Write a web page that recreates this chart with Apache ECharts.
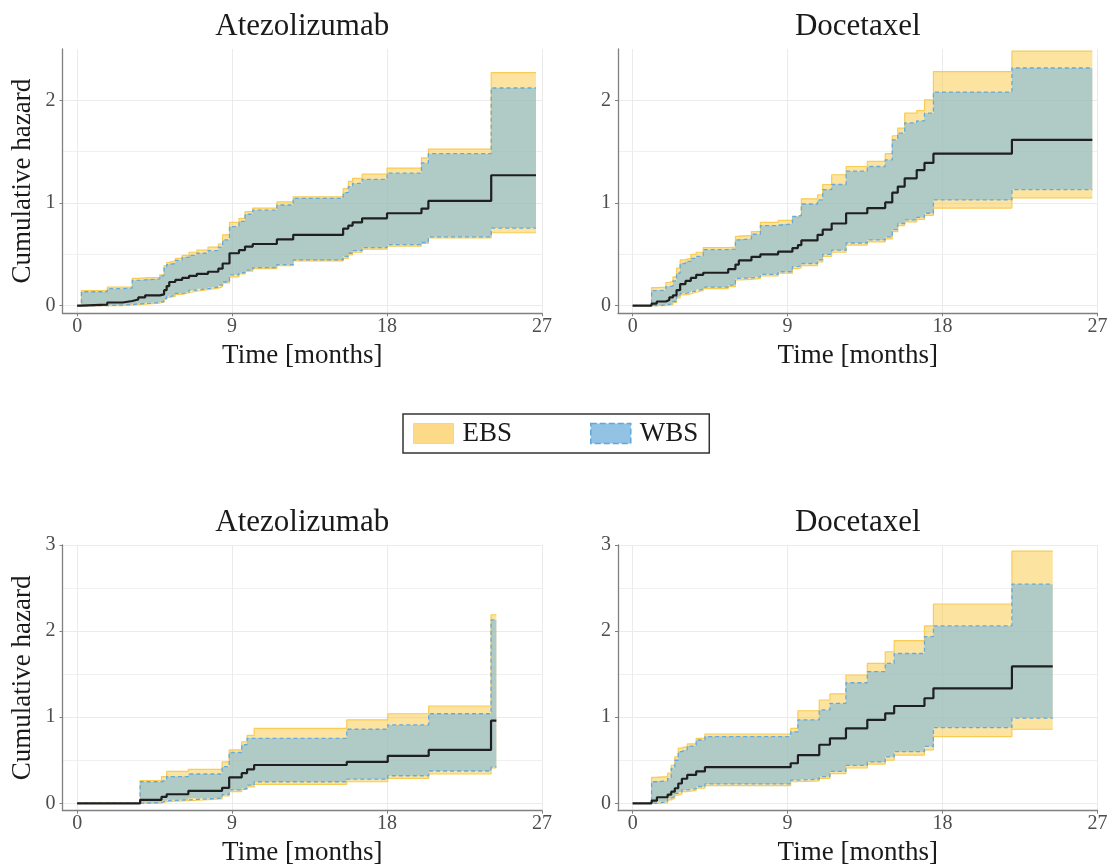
<!DOCTYPE html>
<html>
<head>
<meta charset="utf-8">
<title>Cumulative hazard – EBS vs WBS</title>
<script src="https://cdn.jsdelivr.net/npm/echarts@6/dist/echarts.min.js"></script>
<style>
  html, body { margin: 0; padding: 0; background: #ffffff; }
  #chart { width: 1110px; height: 868px; }
</style>
</head>
<body>
<div id="chart"></div>
<script>
// ---------- data: step functions (value holds from each time to the next) ----------

// Top row, Atezolizumab
const topAtezoTime  = [0, 0.25, 1.75, 2.65, 3.2, 3.55, 3.95, 4.8, 5.05, 5.2, 5.35, 5.7, 6.1, 6.5, 6.95, 7.6, 8.2, 8.45, 8.85, 9.4, 9.75, 10.2, 11.6, 12.55, 15.45, 15.75, 16.0, 16.55, 18.0, 20.0, 20.4, 24.05, 26.65];
const topAtezoEst   = [0, 0.01, 0.03, 0.045, 0.06, 0.08, 0.10, 0.11, 0.15, 0.19, 0.23, 0.25, 0.27, 0.29, 0.31, 0.33, 0.36, 0.41, 0.51, 0.54, 0.575, 0.60, 0.645, 0.69, 0.75, 0.78, 0.81, 0.85, 0.90, 0.945, 1.02, 1.27, 1.27];
const topAtezoWbsLo = [0, 0, 0.005, 0.01, 0.015, 0.02, 0.03, 0.04, 0.07, 0.09, 0.10, 0.12, 0.13, 0.15, 0.165, 0.18, 0.20, 0.23, 0.30, 0.32, 0.345, 0.37, 0.40, 0.445, 0.48, 0.51, 0.535, 0.565, 0.595, 0.615, 0.67, 0.755, 0.755];
const topAtezoWbsHi = [0, 0.135, 0.165, 0.17, 0.245, 0.25, 0.26, 0.29, 0.37, 0.40, 0.41, 0.44, 0.47, 0.49, 0.51, 0.535, 0.57, 0.64, 0.77, 0.82, 0.89, 0.93, 0.98, 1.045, 1.10, 1.16, 1.19, 1.23, 1.29, 1.39, 1.48, 2.12, 2.12];
const topAtezoEbsLo = [0, 0, 0, 0.005, 0.01, 0.015, 0.025, 0.035, 0.06, 0.08, 0.09, 0.11, 0.125, 0.14, 0.155, 0.17, 0.185, 0.22, 0.28, 0.31, 0.335, 0.36, 0.39, 0.435, 0.46, 0.495, 0.52, 0.55, 0.58, 0.605, 0.66, 0.71, 0.71];
const topAtezoEbsHi = [0, 0.145, 0.18, 0.18, 0.265, 0.27, 0.275, 0.30, 0.39, 0.42, 0.435, 0.46, 0.49, 0.52, 0.54, 0.57, 0.60, 0.69, 0.81, 0.85, 0.915, 0.95, 1.01, 1.06, 1.14, 1.21, 1.24, 1.28, 1.34, 1.44, 1.525, 2.27, 2.27];

// Top row, Docetaxel
const topDoceTime  = [0, 1.1, 1.4, 1.93, 2.13, 2.34, 2.55, 2.76, 3.07, 3.38, 3.69, 4.1, 5.55, 5.97, 6.17, 6.9, 7.42, 8.45, 9.28, 9.6, 9.8, 10.74, 11.04, 11.56, 12.4, 13.63, 14.67, 15.08, 15.4, 15.8, 16.5, 16.95, 17.47, 22.03, 26.7];
const topDoceEst   = [0, 0.02, 0.04, 0.055, 0.08, 0.10, 0.15, 0.21, 0.24, 0.27, 0.30, 0.32, 0.355, 0.40, 0.44, 0.475, 0.50, 0.525, 0.56, 0.59, 0.635, 0.69, 0.74, 0.80, 0.90, 0.95, 1.005, 1.10, 1.16, 1.24, 1.32, 1.39, 1.48, 1.615, 1.615];
const topDoceWbsLo = [0, 0, 0.005, 0.013, 0.02, 0.04, 0.09, 0.12, 0.13, 0.145, 0.16, 0.18, 0.20, 0.265, 0.27, 0.28, 0.305, 0.33, 0.38, 0.39, 0.41, 0.445, 0.50, 0.54, 0.61, 0.64, 0.67, 0.74, 0.80, 0.835, 0.86, 0.90, 1.03, 1.13, 1.13];
const topDoceWbsHi = [0, 0.145, 0.15, 0.185, 0.19, 0.24, 0.315, 0.41, 0.43, 0.46, 0.48, 0.545, 0.55, 0.64, 0.65, 0.695, 0.78, 0.795, 0.87, 0.88, 0.99, 1.03, 1.13, 1.18, 1.31, 1.355, 1.42, 1.615, 1.68, 1.78, 1.80, 1.875, 2.08, 2.315, 2.315];
const topDoceEbsLo = [0, 0, 0, 0.005, 0.01, 0.03, 0.075, 0.105, 0.115, 0.13, 0.145, 0.165, 0.185, 0.25, 0.255, 0.265, 0.29, 0.315, 0.36, 0.37, 0.39, 0.425, 0.48, 0.52, 0.59, 0.62, 0.65, 0.72, 0.78, 0.815, 0.84, 0.88, 0.95, 1.05, 1.05];
const topDoceEbsHi = [0, 0.175, 0.18, 0.225, 0.235, 0.28, 0.365, 0.445, 0.46, 0.50, 0.52, 0.565, 0.57, 0.675, 0.685, 0.72, 0.81, 0.83, 0.86, 0.87, 1.04, 1.08, 1.18, 1.275, 1.355, 1.405, 1.48, 1.655, 1.73, 1.875, 1.90, 2.005, 2.28, 2.48, 2.48];

// Bottom row, Atezolizumab
const botAtezoTime  = [0, 3.66, 4.9, 5.2, 6.46, 8.42, 8.83, 9.56, 9.87, 10.28, 15.66, 18.04, 20.42, 24.04, 24.35];
const botAtezoEst   = [0, 0.04, 0.075, 0.105, 0.145, 0.18, 0.30, 0.35, 0.395, 0.445, 0.48, 0.55, 0.62, 0.96, 0.96];
const botAtezoWbsLo = [0, 0.01, 0.03, 0.04, 0.06, 0.10, 0.155, 0.175, 0.21, 0.25, 0.28, 0.32, 0.375, 0.42, 0.42];
const botAtezoWbsHi = [0, 0.25, 0.27, 0.31, 0.34, 0.425, 0.59, 0.68, 0.755, 0.755, 0.86, 0.91, 1.04, 2.13, 2.13];
const botAtezoEbsLo = [0, 0, 0.02, 0.03, 0.05, 0.085, 0.135, 0.16, 0.19, 0.22, 0.25, 0.29, 0.34, 0.41, 0.41];
const botAtezoEbsHi = [0, 0.265, 0.31, 0.37, 0.395, 0.48, 0.62, 0.715, 0.79, 0.87, 0.97, 1.04, 1.13, 2.19, 2.19];

// Bottom row, Docetaxel
const botDoceTime  = [0, 1.1, 1.41, 2.03, 2.24, 2.45, 2.65, 2.86, 3.17, 3.69, 4.2, 9.18, 9.6, 10.84, 11.46, 12.39, 13.63, 14.67, 15.19, 16.95, 17.47, 22.03, 24.4];
const botDoceEst   = [0, 0.03, 0.07, 0.10, 0.135, 0.175, 0.23, 0.285, 0.33, 0.37, 0.42, 0.465, 0.56, 0.68, 0.755, 0.87, 0.97, 1.045, 1.13, 1.22, 1.335, 1.59, 1.59];
const botDoceWbsLo = [0, 0, 0.02, 0.06, 0.08, 0.115, 0.13, 0.155, 0.17, 0.195, 0.225, 0.27, 0.28, 0.31, 0.37, 0.44, 0.48, 0.54, 0.60, 0.66, 0.88, 0.99, 0.99];
const botDoceWbsHi = [0, 0.25, 0.26, 0.29, 0.405, 0.50, 0.60, 0.62, 0.665, 0.735, 0.775, 0.83, 0.97, 1.085, 1.16, 1.40, 1.53, 1.625, 1.74, 1.935, 2.06, 2.545, 2.545];
const botDoceEbsLo = [0, 0, 0.005, 0.04, 0.06, 0.095, 0.11, 0.135, 0.15, 0.175, 0.205, 0.25, 0.26, 0.29, 0.345, 0.41, 0.455, 0.50, 0.56, 0.62, 0.775, 0.86, 0.86];
const botDoceEbsHi = [0, 0.30, 0.31, 0.35, 0.44, 0.54, 0.64, 0.66, 0.69, 0.755, 0.805, 0.87, 1.075, 1.20, 1.27, 1.49, 1.625, 1.76, 1.89, 2.06, 2.315, 2.93, 2.93];

// Axis ranges, tick labels and grid breaks
const timeRange = [-0.85, 27];
const timeTicks = [0, 9, 18, 27];
const topHazardRange = [-0.075, 2.5];
const topHazardTicks = [0, 1, 2];
const topHazardMinor = [0.5, 1.5];
const botHazardRange = [-0.086, 3];
const botHazardTicks = [0, 1, 2, 3];
const botHazardMinor = [0.5, 1.5, 2.5];

// ---------- styling ----------
const SERIF = "'Liberation Serif', 'DejaVu Serif', serif";
const EBS_FILL = 'rgba(251,199,65,0.5)';
const EBS_EDGE = '#F8CC55';
const WBS_FILL = 'rgba(125,185,223,0.6)';
const WBS_EDGE = '#64AADC';
const GRID_COLOR = '#EBEBEB';
const MINOR_GRID_COLOR = '#F0F0F0';
const AXIS_COLOR = '#808080';

const panels = [
  { title: 'Atezolizumab', time: topAtezoTime, est: topAtezoEst, wbsLo: topAtezoWbsLo, wbsHi: topAtezoWbsHi, ebsLo: topAtezoEbsLo, ebsHi: topAtezoEbsHi,
    box: { left: 62.5, top: 49, width: 479.5, height: 264.3 }, yRange: topHazardRange, yTicks: topHazardTicks, yMinor: topHazardMinor, yName: true },
  { title: 'Docetaxel', time: topDoceTime, est: topDoceEst, wbsLo: topDoceWbsLo, wbsHi: topDoceWbsHi, ebsLo: topDoceEbsLo, ebsHi: topDoceEbsHi,
    box: { left: 618, top: 49, width: 479.5, height: 264.3 }, yRange: topHazardRange, yTicks: topHazardTicks, yMinor: topHazardMinor, yName: false },
  { title: 'Atezolizumab', time: botAtezoTime, est: botAtezoEst, wbsLo: botAtezoWbsLo, wbsHi: botAtezoWbsHi, ebsLo: botAtezoEbsLo, ebsHi: botAtezoEbsHi,
    box: { left: 62.5, top: 545, width: 479.5, height: 265.7 }, yRange: botHazardRange, yTicks: botHazardTicks, yMinor: botHazardMinor, yName: true },
  { title: 'Docetaxel', time: botDoceTime, est: botDoceEst, wbsLo: botDoceWbsLo, wbsHi: botDoceWbsHi, ebsLo: botDoceEbsLo, ebsHi: botDoceEbsHi,
    box: { left: 618, top: 545, width: 479.5, height: 265.7 }, yRange: botHazardRange, yTicks: botHazardTicks, yMinor: botHazardMinor, yName: false }
];

// A confidence band as one step-shaped polygon, built through the axis scales.
function bandSeries(name, i, time, lo, hi, fill, z) {
  return {
    type: 'custom', name: name, xAxisIndex: i, yAxisIndex: i, silent: true, z: z,
    color: fill,
    data: time.map((t, k) => [t, lo[k], hi[k]]),
    encode: { x: 0, y: [1, 2] },
    renderItem: function (params, api) {
      if (params.dataIndex !== 0) return null;
      const n = time.length;
      const upper = [], lower = [];
      for (let k = 0; k < n; k++) {
        const t = api.value(0, k), l = api.value(1, k), h = api.value(2, k);
        upper.push(api.coord([t, h]));
        lower.push(api.coord([t, l]));
        if (k < n - 1) {
          const tn = api.value(0, k + 1);
          upper.push(api.coord([tn, h]));
          lower.push(api.coord([tn, l]));
        }
      }
      return {
        type: 'polygon',
        shape: { points: upper.concat(lower.reverse()) },
        style: { fill: fill, stroke: null }
      };
    }
  };
}

const grids = [], xAxes = [], yAxes = [], minorYAxes = [], series = [], graphics = [];

panels.forEach((p, i) => {
  grids.push(Object.assign({ outerBoundsMode: 'none', containLabel: false }, p.box));

  xAxes.push({
    type: 'value', gridIndex: i, min: timeRange[0], max: timeRange[1],
    name: 'Time [months]', nameLocation: 'middle', nameGap: 29,
    nameTextStyle: { fontFamily: SERIF, fontSize: 27, color: '#1a1a1a' },
    axisLine: { show: true, onZero: false, lineStyle: { color: AXIS_COLOR, width: 1.3 } },
    axisTick: { show: true, length: 3, customValues: timeTicks, lineStyle: { color: AXIS_COLOR } },
    axisLabel: { customValues: timeTicks, fontFamily: SERIF, fontSize: 20, color: '#4d4d4d', margin: 3.5 },
    splitLine: { show: true, lineStyle: { color: GRID_COLOR, width: 1 } }
  });

  yAxes.push({
    type: 'value', gridIndex: i, position: 'left', min: p.yRange[0], max: p.yRange[1],
    name: p.yName ? 'Cumulative hazard' : '', nameLocation: 'middle', nameGap: 26, nameRotate: 90,
    nameTextStyle: { fontFamily: SERIF, fontSize: 27, color: '#1a1a1a' },
    axisLine: { show: true, onZero: false, lineStyle: { color: AXIS_COLOR, width: 1.3 } },
    axisTick: { show: true, length: 3, customValues: p.yTicks, lineStyle: { color: AXIS_COLOR } },
    axisLabel: { customValues: p.yTicks, fontFamily: SERIF, fontSize: 20, color: '#4d4d4d', margin: 7 },
    splitLine: { show: true, lineStyle: { color: GRID_COLOR, width: 1 } }
  });

  // companion axis carrying only the minor horizontal grid lines
  minorYAxes.push({
    type: 'value', gridIndex: i, position: 'left', min: p.yRange[0], max: p.yRange[1],
    axisLine: { show: false }, axisLabel: { show: false },
    axisTick: { show: false, customValues: p.yMinor },
    splitLine: { show: true, lineStyle: { color: MINOR_GRID_COLOR, width: 1 } }
  });

  const pts = ys => p.time.map((t, k) => [t, ys[k]]);
  const stepLine = { xAxisIndex: i, yAxisIndex: i, type: 'line', step: 'end', symbol: 'none', silent: true, animation: false };

  // EBS band with solid edges
  series.push(bandSeries('EBS', i, p.time, p.ebsLo, p.ebsHi, EBS_FILL, 1));
  series.push(Object.assign({}, stepLine, { name: 'EBS lower', data: pts(p.ebsLo), lineStyle: { color: EBS_EDGE, width: 1.2 }, z: 2 }));
  series.push(Object.assign({}, stepLine, { name: 'EBS upper', data: pts(p.ebsHi), lineStyle: { color: EBS_EDGE, width: 1.2 }, z: 2 }));

  // WBS band with dashed edges, drawn over the EBS band
  series.push(bandSeries('WBS', i, p.time, p.wbsLo, p.wbsHi, WBS_FILL, 3));
  series.push(Object.assign({}, stepLine, { name: 'WBS lower', data: pts(p.wbsLo), lineStyle: { color: WBS_EDGE, width: 1.3, type: [4, 3] }, z: 4 }));
  series.push(Object.assign({}, stepLine, { name: 'WBS upper', data: pts(p.wbsHi), lineStyle: { color: WBS_EDGE, width: 1.3, type: [4, 3] }, z: 4 }));

  // Nelson–Aalen estimate
  series.push(Object.assign({}, stepLine, { name: 'Estimate', data: pts(p.est), lineStyle: { color: '#1f1f1f', width: 2.2 }, z: 5 }));

  graphics.push({
    type: 'text', x: p.box.left + p.box.width / 2, y: p.box.top - 22, silent: true,
    style: { text: p.title, fontFamily: SERIF, fontSize: 31, fill: '#1a1a1a', align: 'center', verticalAlign: 'middle' }
  });
});

const chart = echarts.init(document.getElementById('chart'), null, { renderer: 'canvas' });
chart.setOption({
  backgroundColor: '#ffffff',
  animation: false,
  grid: grids,
  xAxis: xAxes,
  yAxis: yAxes.concat(minorYAxes),
  series: series,
  graphic: graphics,
  legend: {
    left: 403, top: 414, orient: 'horizontal', selectedMode: false,
    itemWidth: 40, itemHeight: 20, itemGap: 78,
    padding: [6, 11, 6, 10],
    borderColor: '#333333', borderWidth: 1.5, borderRadius: 0,
    textStyle: { fontFamily: SERIF, fontSize: 27, color: '#1a1a1a', padding: [0, 0, 0, 4] },
    data: [
      { name: 'EBS', icon: 'rect', itemStyle: { color: '#FDDA88', borderColor: '#FDD47A', borderWidth: 1 } },
      { name: 'WBS', icon: 'rect', itemStyle: { color: '#92C3E5', borderColor: '#5FA8DA', borderWidth: 1.5, borderType: 'dashed' } }
    ]
  }
});
</script>
</body>
</html>
